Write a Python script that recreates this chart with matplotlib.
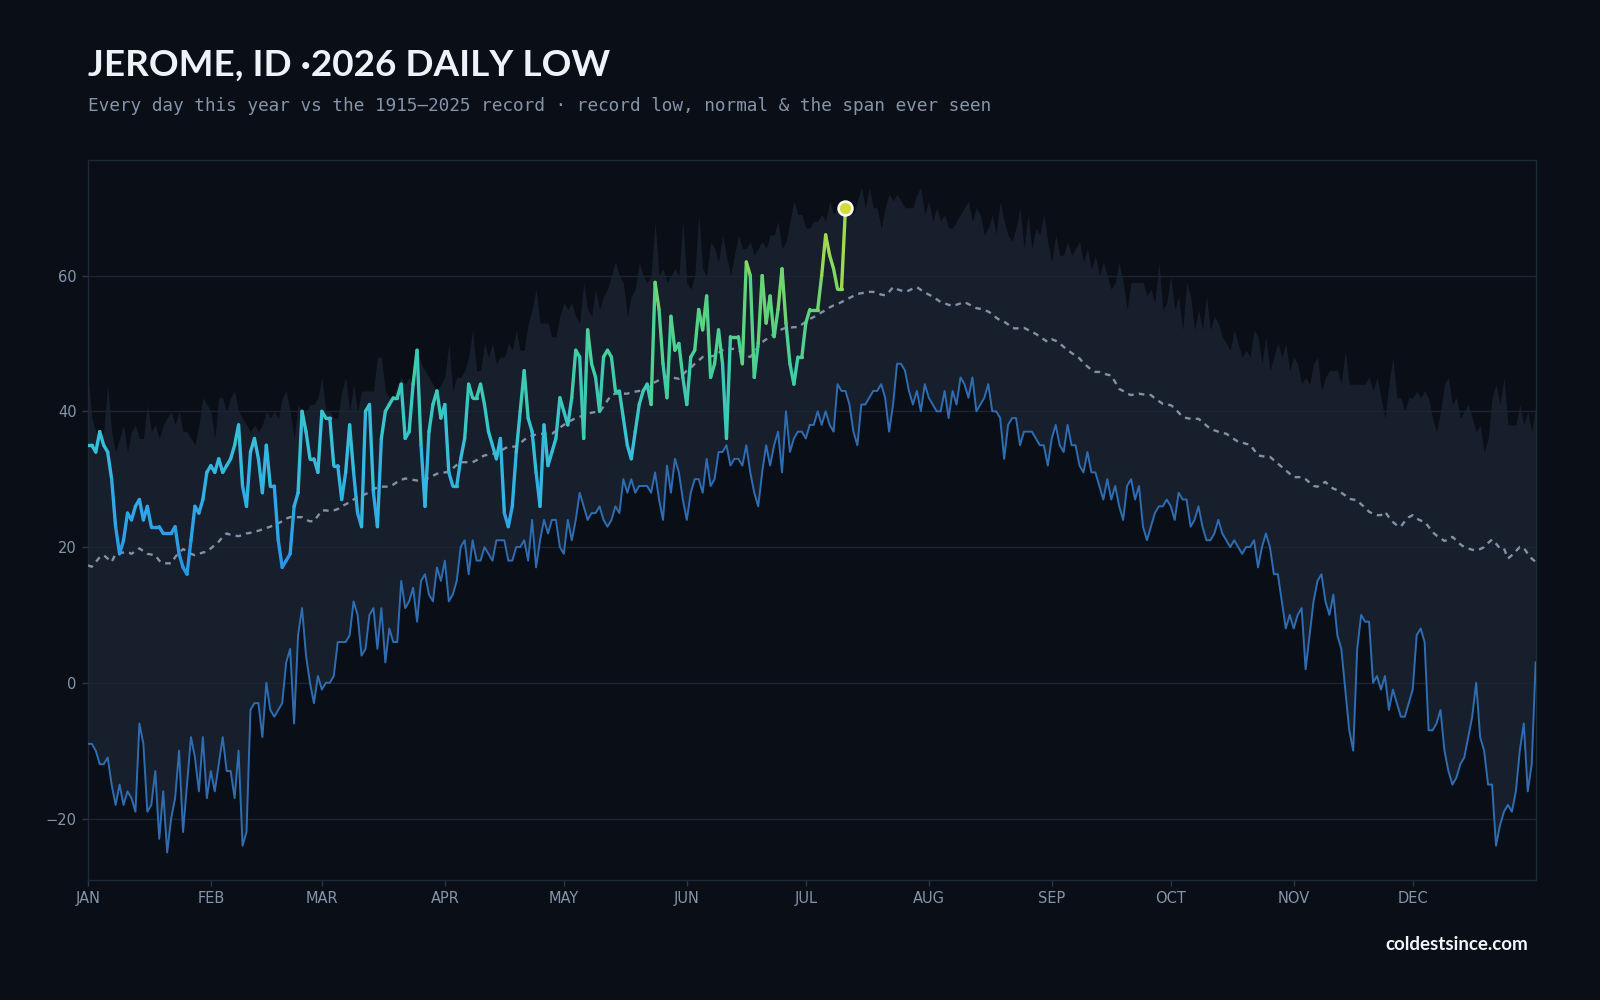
import numpy as np
import matplotlib.pyplot as plt
from matplotlib.collections import LineCollection
from matplotlib.colors import LinearSegmentedColormap, Normalize

# daily values, index 0 = Jan 1 (366 days incl. Feb 29 for the record series)
record_low = [
    -9, -9, -10, -12, -12, -11, -15, -18, -15, -18,
    -16, -17, -19, -6, -9, -19, -18, -13, -23, -16,
    -25, -20, -17, -10, -22, -15, -8, -11, -16, -8,
    -17, -13, -16, -12, -8, -13, -13, -17, -10, -24,
    -22, -4, -3, -3, -8, 0, -4, -5, -4, -3,
    3, 5, -6, 7, 11, 4, 0, -3, 1, -1,
    0, 0, 1, 6, 6, 6, 7, 12, 10, 4,
    5, 10, 11, 5, 11, 3, 8, 6, 6, 15,
    11, 12, 14, 9, 15, 16, 13, 12, 17, 15,
    18, 12, 13, 15, 20, 21, 16, 21, 18, 18,
    20, 19, 18, 21, 21, 21, 18, 18, 20, 20,
    21, 18, 24, 17, 21, 24, 22, 24, 24, 20,
    19, 24, 21, 24, 28, 26, 24, 25, 25, 26,
    24, 23, 24, 26, 25, 30, 28, 30, 28, 29,
    29, 29, 28, 31, 27, 24, 32, 28, 33, 31,
    27, 24, 28, 30, 30, 28, 33, 29, 30, 34,
    34, 35, 32, 33, 33, 32, 35, 31, 28, 26,
    31, 35, 32, 35, 37, 31, 40, 34, 36, 37,
    37, 36, 38, 38, 40, 38, 40, 38, 37, 44,
    43, 43, 41, 37, 35, 41, 41, 42, 43, 43,
    44, 42, 37, 41, 47, 47, 46, 43, 41, 43,
    40, 44, 42, 41, 40, 40, 43, 39, 43, 41,
    45, 44, 42, 45, 40, 41, 42, 44, 40, 40,
    39, 33, 38, 39, 39, 35, 37, 37, 37, 36,
    35, 35, 32, 36, 38, 35, 34, 38, 35, 35,
    32, 31, 34, 31, 31, 29, 27, 30, 27, 29,
    26, 24, 29, 30, 27, 29, 23, 21, 23, 25,
    26, 26, 27, 26, 24, 28, 27, 27, 23, 24,
    26, 23, 21, 21, 22, 24, 22, 21, 20, 21,
    20, 19, 20, 20, 21, 17, 20, 22, 20, 16,
    16, 12, 8, 10, 8, 10, 11, 2, 7, 12,
    15, 16, 12, 10, 13, 7, 5, -1, -7, -10,
    5, 10, 9, 9, 0, 1, -1, 1, -4, -1,
    -3, -5, -5, -3, -1, 7, 8, 6, -7, -7,
    -6, -4, -10, -13, -15, -14, -12, -11, -8, -5,
    0, -8, -10, -15, -15, -24, -21, -19, -18, -19,
    -16, -10, -6, -16, -12, 3,
]

# warmest daily low ever recorded (top of the span)
record_high = [
    46, 39, 37, 36, 37, 44, 37, 34, 36, 38,
    34, 37, 38, 36, 36, 41, 37, 38, 36, 38,
    39, 40, 38, 40, 37, 37, 36, 35, 38, 42,
    41, 40, 36, 42, 42, 40, 42, 43, 40, 39,
    38, 37, 38, 37, 38, 40, 39, 40, 39, 42,
    43, 40, 36, 41, 40, 40, 41, 41, 42, 45,
    40, 40, 39, 39, 43, 45, 40, 44, 40, 43,
    43, 43, 43, 48, 48, 43, 42, 42, 44, 45,
    44, 45, 44, 49, 47, 46, 45, 44, 43, 44,
    45, 50, 43, 45, 45, 46, 48, 52, 46, 46,
    50, 48, 50, 47, 48, 48, 50, 49, 52, 49,
    49, 53, 55, 58, 53, 53, 53, 51, 51, 54,
    56, 55, 56, 54, 53, 59, 55, 54, 58, 55,
    57, 58, 60, 62, 60, 59, 54, 57, 58, 62,
    60, 59, 60, 68, 60, 61, 59, 60, 61, 60,
    68, 59, 58, 60, 69, 61, 60, 65, 64, 62,
    66, 63, 60, 63, 66, 64, 64, 65, 63, 64,
    65, 64, 66, 66, 68, 64, 65, 68, 71, 69,
    69, 67, 67, 68, 68, 69, 68, 71, 69, 70,
    70, 70, 70, 69, 71, 73, 70, 73, 70, 70,
    67, 70, 72, 71, 72, 71, 70, 70, 70, 72,
    73, 69, 71, 68, 70, 68, 69, 67, 67, 68,
    69, 70, 71, 68, 70, 69, 66, 67, 69, 66,
    71, 68, 66, 65, 67, 70, 64, 69, 64, 67,
    66, 69, 65, 62, 66, 63, 63, 65, 63, 64,
    65, 62, 64, 61, 63, 60, 62, 60, 58, 59,
    62, 59, 55, 59, 59, 59, 59, 57, 58, 56,
    62, 55, 56, 60, 55, 57, 52, 59, 57, 52,
    55, 52, 57, 52, 54, 53, 51, 50, 49, 52,
    50, 48, 49, 48, 52, 51, 47, 51, 46, 48,
    50, 48, 50, 46, 48, 47, 44, 45, 44, 47,
    48, 43, 45, 46, 46, 46, 44, 49, 44, 44,
    44, 44, 44, 45, 43, 45, 42, 39, 44, 48,
    42, 42, 40, 42, 42, 43, 42, 43, 42, 39,
    37, 40, 44, 45, 41, 42, 39, 40, 41, 39,
    37, 38, 34, 36, 42, 44, 41, 45, 38, 38,
    38, 41, 38, 40, 37, 41,
]

normal = [
    17.3, 17.1, 17.8, 18.5, 18.8, 18.3, 17.8, 19.0, 19.1, 19.2,
    19.3, 19.0, 19.4, 19.8, 19.4, 19.0, 18.9, 18.8, 18.0, 17.6,
    17.6, 17.6, 18.5, 19.2, 19.7, 19.4, 19.0, 18.8, 19.0, 19.2,
    19.3, 19.8, 20.3, 20.8, 21.5, 22.0, 21.8, 21.7, 21.6, 21.8,
    22.0, 22.1, 22.3, 22.4, 22.6, 22.8, 23.0, 23.3, 23.5, 23.8,
    24.2, 24.4, 24.4, 24.4, 24.4, 24.0, 23.8, 23.8, 24.6, 25.4,
    25.4, 25.3, 25.4, 25.6, 26.0, 26.3, 26.6, 27.0, 27.4, 27.6,
    27.8, 28.1, 28.5, 28.8, 28.9, 28.9, 28.9, 29.2, 29.6, 29.9,
    30.1, 30.0, 29.9, 29.8, 29.9, 30.0, 30.2, 30.5, 30.8, 30.9,
    31.0, 31.1, 31.6, 32.1, 32.5, 32.5, 32.5, 32.5, 32.8, 33.2,
    33.5, 33.6, 33.7, 33.8, 34.1, 34.5, 34.8, 34.8, 34.8, 35.3,
    35.8, 36.2, 36.4, 36.6, 36.7, 36.7, 36.7, 36.7, 37.1, 37.6,
    38.0, 38.4, 38.7, 39.0, 39.2, 39.4, 39.6, 39.8, 39.9, 39.9,
    40.7, 41.6, 42.4, 42.6, 42.6, 42.6, 42.6, 42.8, 42.9, 43.0,
    43.1, 43.5, 43.9, 44.3, 44.6, 45.0, 45.1, 45.0, 44.9, 44.8,
    45.4, 46.0, 46.4, 47.0, 47.5, 48.0, 48.1, 48.1, 48.2, 48.6,
    49.0, 49.2, 49.2, 49.2, 49.0, 48.6, 48.2, 48.0, 48.7, 49.5,
    50.2, 50.6, 51.0, 51.4, 51.8, 52.1, 52.3, 52.3, 52.4, 52.4,
    52.8, 53.2, 53.6, 53.9, 54.2, 54.6, 54.9, 55.3, 55.6, 55.8,
    56.1, 56.4, 56.7, 57.0, 57.3, 57.4, 57.5, 57.6, 57.6, 57.4,
    57.2, 57.1, 57.6, 58.3, 58.0, 57.8, 57.6, 57.8, 58.1, 58.3,
    57.9, 57.5, 57.2, 56.9, 56.5, 56.1, 55.9, 55.7, 55.5, 55.7,
    55.9, 56.1, 55.8, 55.5, 55.2, 55.1, 54.9, 54.7, 54.3, 53.8,
    53.4, 53.2, 52.8, 52.3, 52.2, 52.3, 52.3, 52.0, 51.7, 51.4,
    51.0, 50.6, 50.2, 50.6, 50.4, 50.0, 49.5, 49.0, 48.6, 48.2,
    47.8, 47.1, 46.6, 46.1, 45.8, 45.8, 45.6, 45.4, 45.3, 44.3,
    43.3, 43.0, 42.6, 42.4, 42.5, 42.6, 42.5, 42.4, 42.4, 41.9,
    41.5, 41.1, 41.0, 40.9, 40.5, 39.8, 39.2, 39.0, 38.9, 38.9,
    38.9, 38.4, 37.9, 37.4, 37.2, 37.0, 36.8, 36.7, 36.3, 35.9,
    35.5, 35.4, 35.2, 35.1, 34.3, 33.5, 33.4, 33.3, 33.3, 32.8,
    32.3, 31.8, 31.3, 30.8, 30.3, 30.3, 30.3, 30.0, 29.5, 29.0,
    28.9, 29.3, 29.6, 29.0, 28.6, 28.4, 28.0, 27.6, 27.1, 27.0,
    26.9, 26.3, 25.8, 25.2, 24.9, 24.7, 24.7, 25.2, 24.4, 23.7,
    23.2, 23.0, 23.8, 24.4, 24.7, 24.2, 23.9, 23.7, 23.0, 22.2,
    21.7, 21.3, 20.9, 21.1, 21.5, 21.0, 20.4, 20.0, 19.8, 19.6,
    19.5, 19.7, 20.0, 20.6, 21.1, 20.5, 19.8, 19.8, 18.3, 18.8,
    19.4, 20.0, 19.9, 19.0, 18.3, 17.8,
]

this_year = [
    35, 35, 34, 37, 35, 34, 30, 23, 19, 21,
    25, 24, 26, 27, 24, 26, 23, 23, 23, 22,
    22, 22, 23, 19, 17, 16, 21, 26, 25, 27,
    31, 32, 31, 33, 31, 32, 33, 35, 38, 29,
    26, 34, 36, 33, 28, 35, 29, 29, 21, 17,
    18, 19, 26, 28, 40, 37, 33, 33, 31, 40,
    39, 39, 32, 32, 27, 31, 38, 31, 25, 23,
    40, 41, 28, 23, 36, 40, 41, 42, 42, 44,
    36, 37, 44, 49, 35, 26, 37, 41, 43, 39,
    41, 31, 29, 29, 33, 36, 44, 42, 42, 44,
    41, 37, 35, 33, 36, 25, 23, 26, 34, 40,
    46, 39, 37, 31, 26, 38, 32, 34, 36, 42,
    40, 38, 42, 49, 48, 36, 52, 47, 45, 40,
    48, 49, 48, 43, 43, 39, 35, 33, 37, 41,
    43, 44, 41, 59, 55, 47, 42, 54, 49, 50,
    45, 41, 48, 49, 55, 52, 57, 45, 47, 52,
    47, 36, 51, 51, 51, 47, 62, 60, 45, 50,
    60, 53, 57, 51, 55, 61, 53, 47, 44, 48,
    48, 53, 55, 55, 55, 60, 66, 63, 61, 58,
    58, 70,
]

month_starts = [0, 31, 59, 90, 120, 151, 181, 212, 243, 273, 304, 334]
month_labels = ['JAN', 'FEB', 'MAR', 'APR', 'MAY', 'JUN',
                'JUL', 'AUG', 'SEP', 'OCT', 'NOV', 'DEC']
y_ticks = [-20, 0, 20, 40, 60]

BG = '#0a0e16'
BAND = '#161f2b'
TICK = '#8495aa'

cmap = LinearSegmentedColormap.from_list('yr', [
    (0.0, '#2a8fe2'), (0.2, '#2fa9e8'), (0.38, '#37c1d8'),
    (0.55, '#3ecda8'), (0.72, '#5dd47c'), (0.86, '#93d955'), (1.0, '#d2dd3e')])
norm = Normalize(15, 70)

fig = plt.figure(figsize=(16, 10), dpi=100, facecolor=BG)
ax = fig.add_axes([0.0549, 0.1204, 0.9049, 0.7194])
ax.set_facecolor(BG)

days = np.arange(len(record_low))
ax.fill_between(days, record_low, record_high, color=BAND, linewidth=0, zorder=1)
ax.plot(days, record_low, color='#2f6db3', lw=1.4, zorder=3)
ax.plot(days, normal, color='#8291a6', lw=1.7, dashes=(2.4, 2.2), zorder=3)

yd = np.arange(len(this_year))
vals = np.array(this_year, dtype=float)
pts = np.column_stack([yd, vals]).reshape(-1, 1, 2)
segs = np.concatenate([pts[:-1], pts[1:]], axis=1)
lc = LineCollection(segs, cmap=cmap, norm=norm, linewidths=2.4,
                    capstyle='round', joinstyle='round', zorder=4)
lc.set_array((vals[:-1] + vals[1:]) / 2)
ax.add_collection(lc)
ax.plot(yd[-1], vals[-1], 'o', ms=10, mfc='#d4dc3c', mec='white', mew=1.8, zorder=5)

ax.set_xlim(0, 365)
ax.set_ylim(-29, 77)
ax.set_xticks(month_starts)
ax.set_xticklabels(month_labels)
ax.set_yticks(y_ticks)
ax.tick_params(colors='#2a3647', labelcolor=TICK, labelsize=10.5, length=4, width=1, pad=4)
ax.yaxis.grid(True, color='#1a2434', lw=1)
ax.set_axisbelow('line')
for s in ax.spines.values():
    s.set_color('#1e2938')
    s.set_linewidth(1)


def fit(t, width_px):
    fig.canvas.draw()
    w = t.get_window_extent().width
    t.set_fontsize(t.get_fontsize() * width_px / w)


title = fig.text(0.0549, 0.9245, 'JEROME, ID \u00b72026 DAILY LOW', color='#eef3f8',
                 fontsize=28, fontweight='bold', family=['Lato', 'DejaVu Sans'], va='baseline')
fit(title, 522)
sub = fig.text(0.0549, 0.8888,
               'Every day this year vs the 1915\u20132025 record \u00b7 record low, normal & the span ever seen',
               color='#8594a8', fontsize=13, family='DejaVu Sans Mono', va='baseline')
fit(sub, 906)
foot = fig.text(0.9548, 0.050, 'coldestsince.com', color='#f2f5f9', fontsize=11,
                fontweight='bold', family=['Lato', 'DejaVu Sans'], ha='right', va='baseline')
fit(foot, 143)

fig.savefig('out.png', dpi=100, facecolor=BG)
